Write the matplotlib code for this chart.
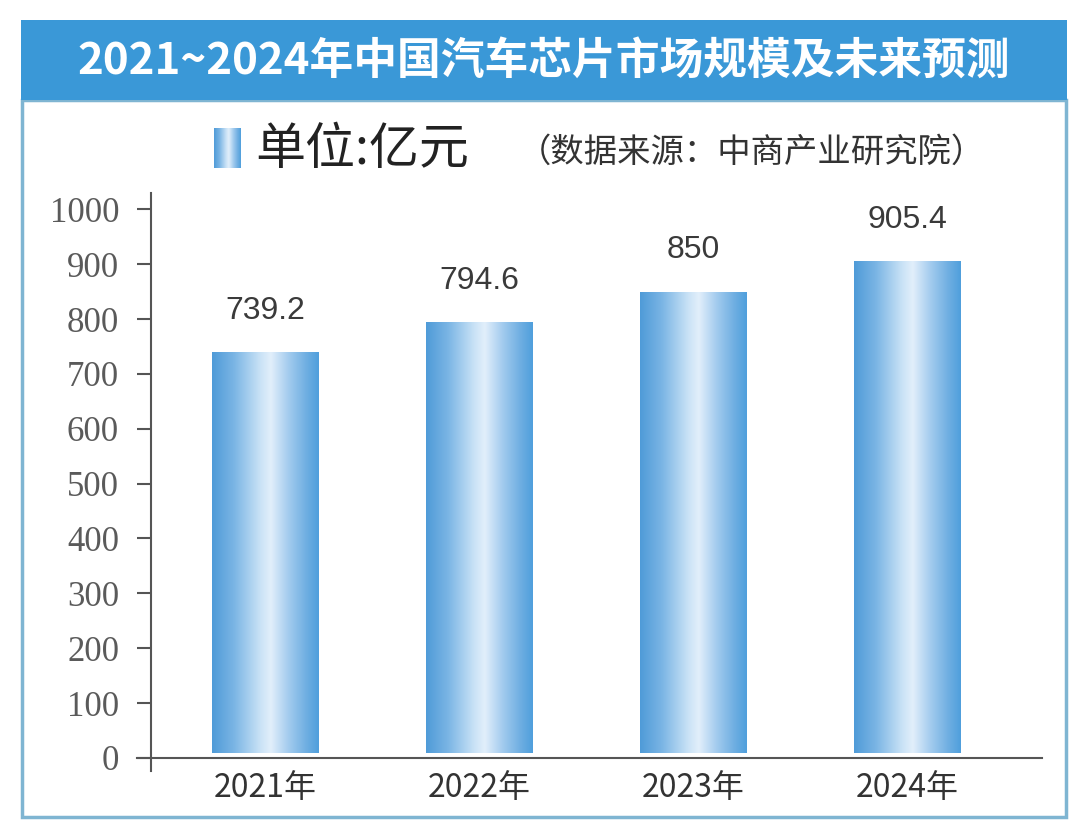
import numpy as np
import matplotlib.pyplot as plt
from matplotlib.colors import LinearSegmentedColormap
from matplotlib.patches import Rectangle

plt.rcParams['font.family'] = ['Noto Sans CJK SC', 'DejaVu Sans']

# 数据
years = ['2021年', '2022年', '2023年', '2024年']
values = [739.2, 794.6, 850, 905.4]
value_labels = ['739.2', '794.6', '850', '905.4']
yticks = [0, 100, 200, 300, 400, 500, 600, 700, 800, 900, 1000]
title = '2021~2024年中国汽车芯片市场规模及未来预测'
unit_text = '单位:亿元'
source_text = '（数据来源：中商产业研究院）'

W, H = 1080, 826
fig = plt.figure(figsize=[W / 100, H / 100], dpi=100)
fig.patch.set_facecolor('white')


def fx(px):
    return px / W


def fy(py):
    return 1 - py / H


# 外框和标题栏
border = '#7fb5d2'
fig.add_artist(Rectangle((fx(22), fy(817)), fx(1066 - 22), (817 - 100) / H,
                         transform=fig.transFigure, facecolor='white',
                         edgecolor=border, linewidth=2.5, zorder=-10))
fig.add_artist(Rectangle((fx(21), fy(100)), fx(1067 - 21), 80 / H,
                         transform=fig.transFigure, facecolor='#3a98d7',
                         edgecolor='none', zorder=-9))
fig.text(fx(544), fy(61), title, color='white', fontsize=31.5, fontweight='bold',
         ha='center', va='center')

# 渐变色
cmap = LinearSegmentedColormap.from_list('bar', [
    (0.0, '#4f9bd8'), (0.2, '#79b4e4'), (0.45, '#c9e2f6'), (0.55, '#e2effb'),
    (0.72, '#a2cbee'), (0.88, '#70afe2'), (1.0, '#4f9fdc')])
grad = np.linspace(0, 1, 256).reshape(1, -1)

# 主图
ax = fig.add_axes([fx(151), fy(771), fx(1042 - 151), (771 - 193) / H])
ax.patch.set_visible(False)
x = np.arange(len(years))
bars = ax.bar(x, values, width=0.5, color='none', edgecolor='none')
for b in bars:
    x0, y0 = b.get_x(), b.get_y()
    im = ax.imshow(grad, cmap=cmap, aspect='auto', interpolation='bicubic',
                   extent=[x0, x0 + b.get_width(), y0 + 8, y0 + b.get_height()],
                   zorder=2)
    im.set_clip_path(b)
ax.set_xlim(-0.535, 3.63)
ax.set_ylim(-24, 1030)

for xi, v, lab in zip(x, values, value_labels):
    ax.annotate(lab, (xi, v), xytext=(0, 19), textcoords='offset points',
                ha='center', va='bottom', fontsize=23, color='#3a3a3a',
                family=['Liberation Sans', 'DejaVu Sans'])

for s in ['top', 'right', 'bottom']:
    ax.spines[s].set_visible(False)
ax.spines['left'].set_color('#555555')
ax.spines['left'].set_linewidth(1.5)
ax.axhline(0, xmin=-0.016, xmax=1, color='#555555', linewidth=1.5, clip_on=False)

ax.set_yticks(yticks)
ax.set_yticklabels([str(t) for t in yticks], family=['Liberation Serif'],
                   fontsize=25, color='#5a5a5a')
ax.tick_params(axis='y', direction='out', length=10, width=1.5, color='#555555', pad=13)
ax.set_xticks(x)
ax.set_xticklabels(years, fontsize=23, color='#333333')
ax.tick_params(axis='x', length=0, pad=1)

# 图例
lax = fig.add_axes([fx(214), fy(168), fx(26), 40 / H])
lax.imshow(grad, cmap=cmap, aspect='auto', interpolation='bicubic')
lax.axis('off')
fig.text(fx(255), fy(150), unit_text, fontsize=36, color='#222222', va='center')
fig.text(fx(518), fy(152), source_text, fontsize=24, color='#333333', va='center',
         fontweight='light')

plt.savefig('out.png', dpi=100)
